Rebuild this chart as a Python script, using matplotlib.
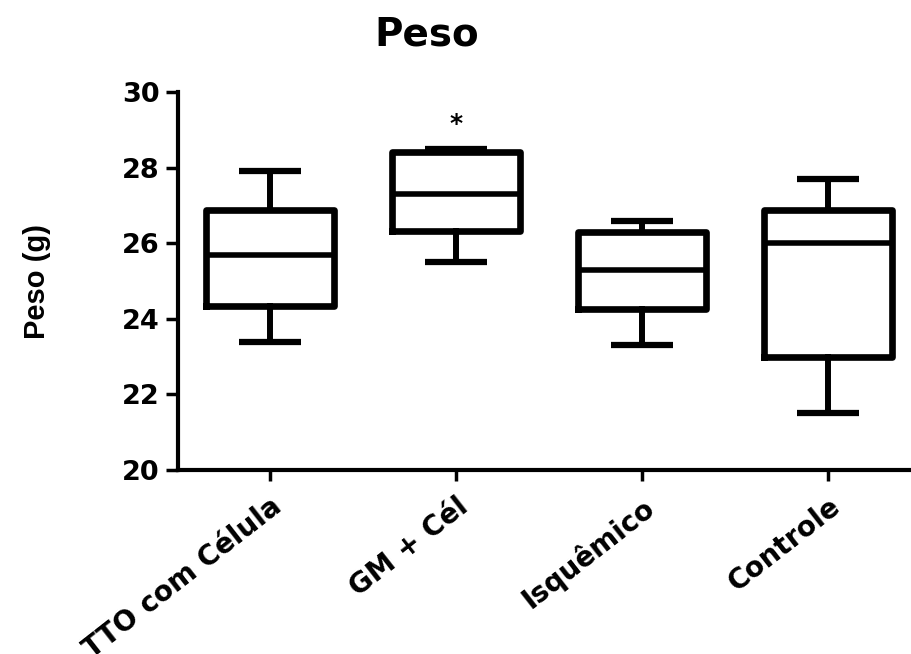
import matplotlib.pyplot as plt
from matplotlib.transforms import ScaledTranslation

# Box plot values (whiskers = min/max)
groups = ['TTO com Célula', 'GM + Cél', 'Isquêmico', 'Controle']
w_low = [23.4, 25.5, 23.3, 21.5]
q1 = [24.35, 26.32, 24.27, 23.0]
medians = [25.7, 27.3, 25.3, 26.0]
q3 = [26.88, 28.4, 26.3, 26.88]
w_high = [27.9, 28.5, 26.6, 27.7]
yticks = [20, 22, 24, 26, 28, 30]

plt.rcParams['font.family'] = ['DejaVu Sans']
plt.rcParams['font.weight'] = 'bold'

fig = plt.figure(figsize=(9.12, 6.54), dpi=100)
ax = fig.add_axes([0.195, 0.2813, 0.815, 0.578])

stats = []
for i, g in enumerate(groups):
    stats.append({'label': g, 'whislo': w_low[i], 'q1': q1[i], 'med': medians[i],
                  'q3': q3[i], 'whishi': w_high[i], 'fliers': []})

pos = list(range(len(groups)))
ax.bxp(stats, positions=pos, widths=0.69, showfliers=False,
       boxprops=dict(linewidth=4.8, color='black', solid_joinstyle='round'),
       medianprops=dict(linewidth=4, color='black', solid_capstyle='butt'),
       whiskerprops=dict(linewidth=4.3, color='black'),
       capprops=dict(linewidth=4.5, color='black', solid_capstyle='butt'),
       capwidths=0.335)

# significance mark above GM + Cél
ax.annotate('*', xy=(1, w_high[1]), xytext=(0, 18), textcoords='offset points',
            ha='center', va='center', fontsize=18, fontweight='bold')

ax.set_xlim(-0.495, 3.5)
ax.set_ylim(20, 30)
ax.set_yticks(yticks)
ax.set_yticklabels([str(t) for t in yticks], fontsize=19.5)
ax.set_xticks(pos)
ax.set_xticklabels(groups, rotation=38, ha='right', va='top',
                   rotation_mode='anchor', fontsize=20)
shift = ScaledTranslation(0.1, 0, fig.dpi_scale_trans)
for lab in ax.get_xticklabels():
    lab.set_transform(lab.get_transform() + shift)

for s in ['top', 'right']:
    ax.spines[s].set_visible(False)
ax.spines['left'].set_linewidth(3)
ax.spines['bottom'].set_linewidth(3)
ax.tick_params(axis='y', width=2.5, length=9, pad=4)
ax.tick_params(axis='x', width=2.5, length=8, pad=8)

ax.set_ylabel('Peso (g)', fontsize=21, fontweight='bold', family='Liberation Sans')
ax.yaxis.set_label_coords(-0.170, 0.5)
fig.text(0.468, 0.931, 'Peso', ha='center', va='baseline', fontsize=28, fontweight='bold')

fig.savefig('out.png', dpi=100)
